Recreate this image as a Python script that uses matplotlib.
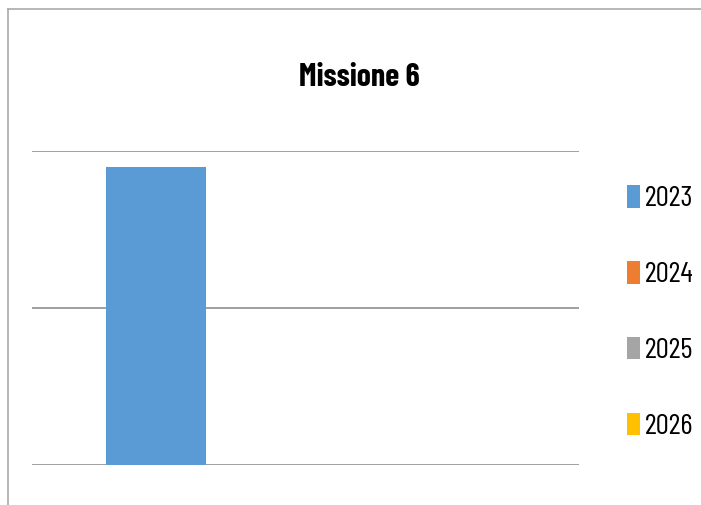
import matplotlib
matplotlib.use("Agg")
import matplotlib.pyplot as plt
from matplotlib.lines import Line2D

# --- dati ---
categorie = ["Missione 6"]
anni = ["2023", "2024", "2025", "2026"]
valori = [1.9, 0, 0, 0]
colori = ["#5B9BD5", "#ED7D31", "#A5A5A5", "#FFC000"]

plt.rcParams["font.family"] = ["Barlow Condensed", "DejaVu Sans"]

fig = plt.figure(figsize=(7.01, 5.05), dpi=100)
ax = fig.add_axes([32 / 701, 40 / 505, 547 / 701, 314 / 505])

larghezza = 0.1828
for i, (anno, v, c) in enumerate(zip(anni, valori, colori)):
    ax.bar(0 + (i - 1.5) * larghezza, v, width=larghezza, color=c, label=anno)

ax.set_xlim(-0.5, 0.5)
ax.set_ylim(0, 2)
ax.set_yticks([0, 1, 2])
ax.yaxis.grid(True, color="#999999", lw=1.3)
ax.set_axisbelow(True)
ax.tick_params(left=False, bottom=False, labelleft=False, labelbottom=False)
for s in ax.spines.values():
    s.set_visible(False)

fig.text(359 / 701, 1 - 77 / 505, categorie[0], ha="center", va="center",
         fontsize=23, fontweight="bold")

fig.legend(loc="upper left", bbox_to_anchor=(627 / 701, 1 - 185 / 505),
           frameon=False, fontsize=21, handlelength=0.45, handleheight=0.82,
           handletextpad=0.17, labelspacing=1.66, borderaxespad=0, borderpad=0)

# cornice
fig.add_artist(Line2D([8 / 701, 8 / 701], [0, 1 - 9 / 505], color="#aaaaaa", lw=1.2))
fig.add_artist(Line2D([8 / 701, 1], [1 - 9 / 505, 1 - 9 / 505], color="#aaaaaa", lw=1.2))

fig.savefig("out.png", dpi=100)
